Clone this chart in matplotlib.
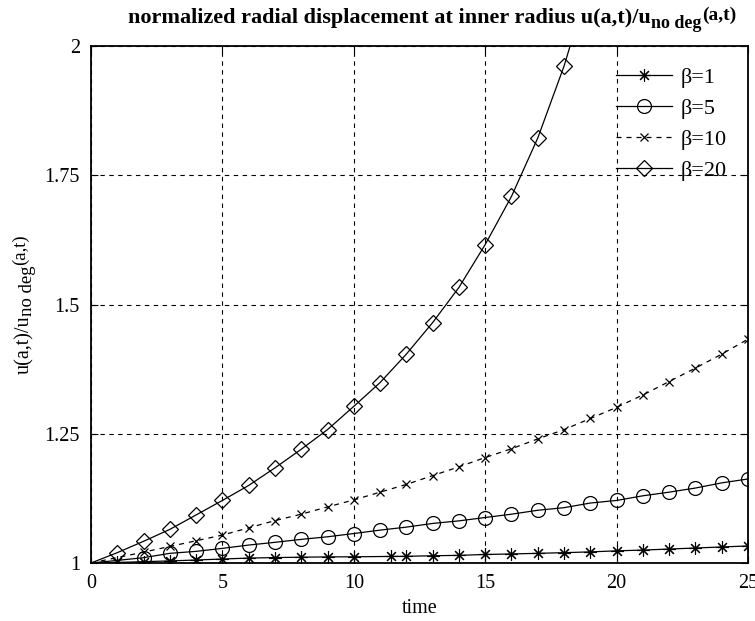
import matplotlib
matplotlib.use("Agg")
import matplotlib.pyplot as plt

plt.rcParams['font.family'] = ['Liberation Serif', 'DejaVu Serif']

# data
t = [0, 1, 2, 3, 4, 5, 6, 7, 8, 9, 10, 11, 12, 13, 14, 15, 16, 17, 18, 19, 20, 21, 22, 23, 24, 25]
t_b1 = [0, 1, 2, 3, 4, 5, 6, 7, 8, 9, 10, 11.4, 12, 13, 14, 15, 16, 17, 18, 19, 20, 21, 22, 23, 24, 25]
u_b1 = [1.0, 1.001, 1.0026, 1.004, 1.0058, 1.0077, 1.0095, 1.0105, 1.0112, 1.0118, 1.012, 1.0127,
        1.013, 1.014, 1.0148, 1.0165, 1.0175, 1.0187, 1.02, 1.0215, 1.0235, 1.025, 1.027, 1.029, 1.031, 1.033]
u_b5 = [1.0, 1.005, 1.0103, 1.0187, 1.0225, 1.0283, 1.0347, 1.040, 1.0457, 1.0507, 1.057, 1.0636,
        1.0694, 1.0765, 1.0815, 1.088, 1.0944, 1.102, 1.107, 1.116, 1.121, 1.130, 1.137, 1.145, 1.155, 1.1625]
u_b10 = [1.0, 1.0105, 1.021, 1.032, 1.043, 1.054, 1.068, 1.082, 1.0944, 1.1085, 1.122, 1.137,
         1.152, 1.169, 1.186, 1.204, 1.221, 1.240, 1.258, 1.2795, 1.301, 1.325, 1.351, 1.377, 1.404, 1.433]
t_b20 = [0, 1, 2, 3, 4, 5, 6, 7, 8, 9, 10, 11, 12, 13, 14, 15, 16, 17, 18, 19]
u_b20 = [1.0, 1.020, 1.042, 1.065, 1.093, 1.121, 1.150, 1.184, 1.220, 1.258, 1.303, 1.349,
         1.404, 1.465, 1.533, 1.616, 1.709, 1.822, 1.961, 2.13]
labels = ['β=1', 'β=5', 'β=10', 'β=20']
xticks = [0, 5, 10, 15, 20, 25]
yticks = [1, 1.25, 1.5, 1.75, 2]
yticklabels = ['1', '1.25', '1.5', '1.75', '2']

W, H = 755, 621
fig = plt.figure(figsize=(W / 100, H / 100), dpi=100)
ax = fig.add_axes([91 / W, 1 - 563 / H, (748 - 91) / W, (563 - 46) / H])

lw = 0.9
ax.plot(t_b1, u_b1, color='black', lw=lw, marker=(8, 2, 0), ms=9, mew=0.8,
        markevery=slice(1, None), label=labels[0])
ax.plot(t, u_b5, color='black', lw=lw, marker='o', ms=10, mfc='none', mew=0.9,
        markevery=slice(2, None), label=labels[1])
ax.plot(t, u_b10, color='black', lw=lw, ls=(0, (4, 4)), marker='x', ms=5.5, mew=0.9,
        markevery=slice(2, None), label=labels[2])
ax.plot(t_b20, u_b20, color='black', lw=lw, marker='D', ms=8.5, mfc='none', mew=0.9,
        markevery=slice(1, None), label=labels[3])

ax.set_xlim(0, 25)
ax.set_ylim(1, 2)
ax.set_xticks(xticks)
ax.set_yticks(yticks)
ax.set_yticklabels(yticklabels)
ax.tick_params(direction='in', labelsize=14.5, length=5, width=0.8, top=True, right=True, pad=8)
ax.grid(True, color='black', ls=(0, (4, 4)), lw=0.8)
for s in ax.spines.values():
    s.set_linewidth(1.3)

ax.set_xlabel('time', fontsize=14.5, labelpad=4)

ax.legend(loc='upper right', frameon=False, fontsize=16, handlelength=2.5,
          labelspacing=0.47, handletextpad=0.4, borderaxespad=0.55)

# title: main text, subscript, then raised (a,t)
ty = 1 - 23 / H
t1 = fig.text(128 / W, ty, 'normalized radial displacement at inner radius u(a,t)/u',
              fontsize=16, fontweight='bold', ha='left', va='baseline')
t2 = ax.annotate('no deg', xy=(1, ty), xycoords=(t1, 'figure fraction'),
                 xytext=(0.5, -3.5), textcoords='offset points',
                 fontsize=13, fontweight='bold', ha='left', va='baseline')
t3 = ax.annotate('(a,t)', xy=(1, ty), xycoords=(t2, 'figure fraction'),
                 xytext=(0, 2.5), textcoords='offset points',
                 fontsize=14, fontweight='bold', ha='left', va='baseline')

# y label built the same way, rotated
lx = 29 / W
l1 = fig.text(lx, 1 - 383 / H, 'u(a,t)/u', fontsize=14.5, rotation=90,
              rotation_mode='anchor', ha='left', va='baseline')
l2 = ax.annotate('no deg', xy=(lx, 1), xycoords=('figure fraction', l1),
                 xytext=(2.5, 0), textcoords='offset points', fontsize=13.5,
                 rotation=90, rotation_mode='anchor', ha='left', va='baseline')
l3 = ax.annotate('(a,t)', xy=(lx, 1), xycoords=('figure fraction', l2),
                 xytext=(-3, 0), textcoords='offset points', fontsize=13.5,
                 rotation=90, rotation_mode='anchor', ha='left', va='baseline')

# centre the y label on the axes
fig.canvas.draw()
r = fig.canvas.get_renderer()
b1 = l1.get_window_extent(r)
b3 = l3.get_window_extent(r)
mid = (b1.y0 + b3.y1) / 2
target = (H - (563 + 46) / 2)
x0, y0 = l1.get_position()
l1.set_position((x0, y0 + (target - mid) / H))

fig.savefig('out.png', dpi=100)
